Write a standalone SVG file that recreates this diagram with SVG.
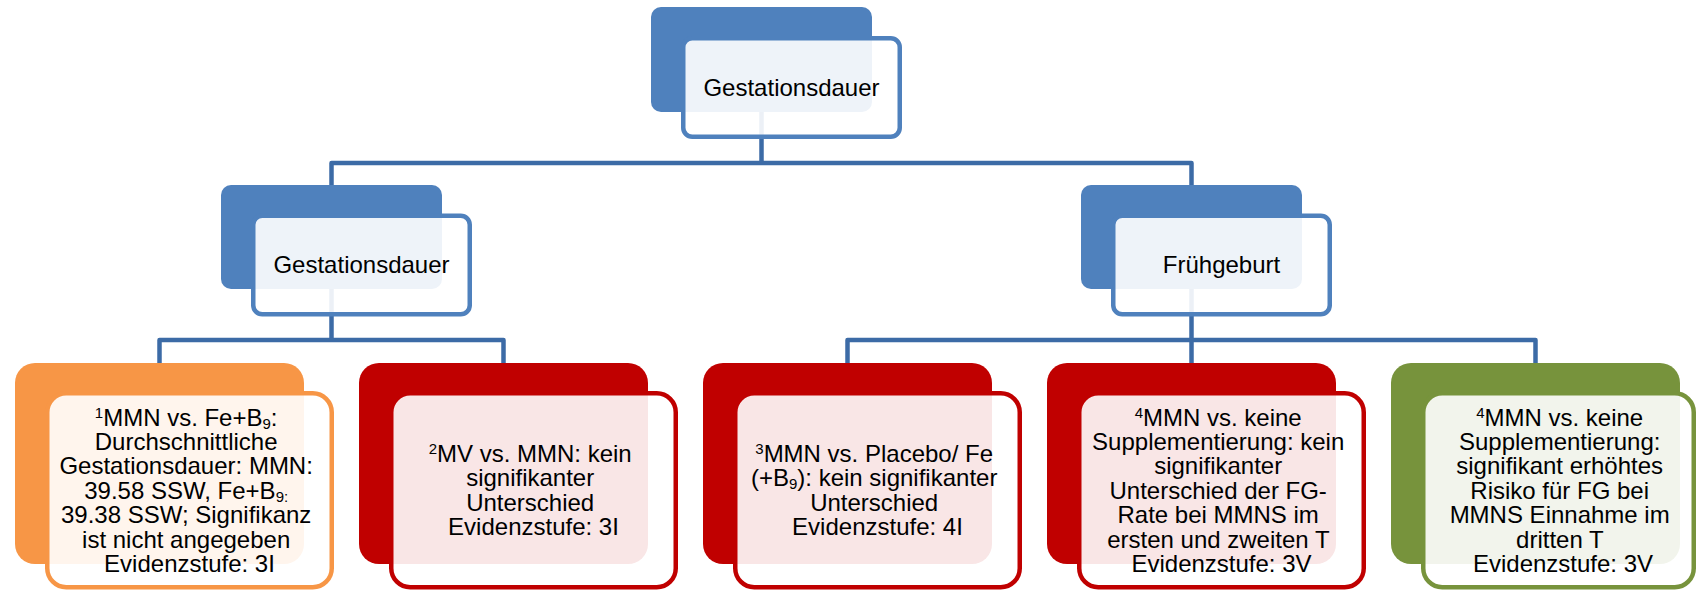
<svg xmlns="http://www.w3.org/2000/svg" width="1696" height="590" viewBox="0 0 1696 590">
<style>
.conn{fill:none;stroke:#3C6BA6;stroke-width:4.5;stroke-linejoin:round}
.front{fill:#FFFFFF;fill-opacity:0.9;stroke-width:4.5}
.t{font-family:"Liberation Sans",Arial,sans-serif;font-size:24px;fill:#000;text-anchor:middle}
.s{font-size:15px}
.blue{fill:#4F81BD}.blueS{stroke:#4F81BD}
.orange{fill:#F79646}.orangeS{stroke:#F79646}
.red{fill:#C00000}.redS{stroke:#C00000}
.green{fill:#77933C}.greenS{stroke:#77933C}
</style>
<rect width="1696" height="590" fill="#FFFFFF"/>
<g id="connectors">
<path class="conn" d="M761.5,112 V163 M331.5,185 V163 H1191.5 V185"/>
<path class="conn" d="M331.5,289 V340 M159.5,363 V340 H503.5 V363"/>
<path class="conn" d="M1191.5,289 V363 M847.5,363 V340 H1535.5 V363"/>
</g>
<g id="n-top">
<rect class="blue" x="651" y="7" width="221" height="105" rx="10"/>
<rect class="front blueS" x="683.25" y="38.25" width="216.5" height="98.5" rx="9"/>
<text class="t" x="791.5" y="95.5">Gestationsdauer</text>
</g>
<g id="n-gest">
<rect class="blue" x="221" y="185" width="221" height="104" rx="10"/>
<rect class="front blueS" x="253.25" y="215.75" width="216.5" height="98.5" rx="9"/>
<text class="t" x="361.5" y="272.7">Gestationsdauer</text>
</g>
<g id="n-fg">
<rect class="blue" x="1081" y="185" width="221" height="104" rx="10"/>
<rect class="front blueS" x="1113.25" y="215.75" width="216.5" height="98.5" rx="9"/>
<text class="t" x="1221.5" y="272.7">Frühgeburt</text>
</g>
<g id="n1">
<rect class="orange" x="15" y="363" width="289" height="201" rx="20"/>
<rect class="front orangeS" x="47.25" y="393.25" width="284.5" height="194" rx="19"/>
<text class="t">
<tspan x="189.5" y="425.5"><tspan class="s" dy="-8">1</tspan><tspan dy="8">MMN vs. Fe+B</tspan><tspan class="s" dy="3">9</tspan><tspan dy="-3">:</tspan></tspan>
<tspan x="189.5" y="449.9">Durchschnittliche</tspan>
<tspan x="189.5" y="474.3">Gestationsdauer: MMN:</tspan>
<tspan x="189.5" y="498.7">39.58 SSW, Fe+B<tspan class="s" dy="3">9:</tspan></tspan>
<tspan x="189.5" y="523.1">39.38 SSW; Signifikanz</tspan>
<tspan x="189.5" y="547.5">ist nicht angegeben</tspan>
<tspan x="189.5" y="571.9">Evidenzstufe: 3I</tspan>
</text>
</g>
<g id="n2">
<rect class="red" x="359" y="363" width="289" height="201" rx="20"/>
<rect class="front redS" x="391.25" y="393.25" width="284.5" height="194" rx="19"/>
<text class="t">
<tspan x="533.5" y="461.7"><tspan class="s" dy="-8">2</tspan><tspan dy="8">MV vs. MMN: kein</tspan></tspan>
<tspan x="533.5" y="486.1">signifikanter</tspan>
<tspan x="533.5" y="510.5">Unterschied</tspan>
<tspan x="533.5" y="534.9">Evidenzstufe: 3I</tspan>
</text>
</g>
<g id="n3">
<rect class="red" x="703" y="363" width="289" height="201" rx="20"/>
<rect class="front redS" x="735.25" y="393.25" width="284.5" height="194" rx="19"/>
<text class="t">
<tspan x="877.5" y="461.7"><tspan class="s" dy="-8">3</tspan><tspan dy="8">MMN vs. Placebo/ Fe</tspan></tspan>
<tspan x="877.5" y="486.1">(+B<tspan class="s" dy="3">9</tspan><tspan dy="-3">): kein signifikanter</tspan></tspan>
<tspan x="877.5" y="510.5">Unterschied</tspan>
<tspan x="877.5" y="534.9">Evidenzstufe: 4I</tspan>
</text>
</g>
<g id="n4">
<rect class="red" x="1047" y="363" width="289" height="201" rx="20"/>
<rect class="front redS" x="1079.25" y="393.25" width="284.5" height="194" rx="19"/>
<text class="t">
<tspan x="1221.5" y="425.5"><tspan class="s" dy="-8">4</tspan><tspan dy="8">MMN vs. keine</tspan></tspan>
<tspan x="1221.5" y="449.9">Supplementierung: kein</tspan>
<tspan x="1221.5" y="474.3">signifikanter</tspan>
<tspan x="1221.5" y="498.7">Unterschied der FG-</tspan>
<tspan x="1221.5" y="523.1">Rate bei MMNS im</tspan>
<tspan x="1221.5" y="547.5">ersten und zweiten T</tspan>
<tspan x="1221.5" y="571.9">Evidenzstufe: 3V</tspan>
</text>
</g>
<g id="n5">
<rect class="green" x="1391" y="363" width="289" height="201" rx="20"/>
<rect class="front greenS" x="1423.25" y="393.25" width="270.5" height="194" rx="19"/>
<text class="t">
<tspan x="1563" y="425.5"><tspan class="s" dy="-8">4</tspan><tspan dy="8">MMN vs. keine</tspan></tspan>
<tspan x="1563" y="449.9">Supplementierung:</tspan>
<tspan x="1563" y="474.3">signifikant erhöhtes</tspan>
<tspan x="1563" y="498.7">Risiko für FG bei</tspan>
<tspan x="1563" y="523.1">MMNS Einnahme im</tspan>
<tspan x="1563" y="547.5">dritten T</tspan>
<tspan x="1563" y="571.9">Evidenzstufe: 3V</tspan>
</text>
</g>
</svg>
